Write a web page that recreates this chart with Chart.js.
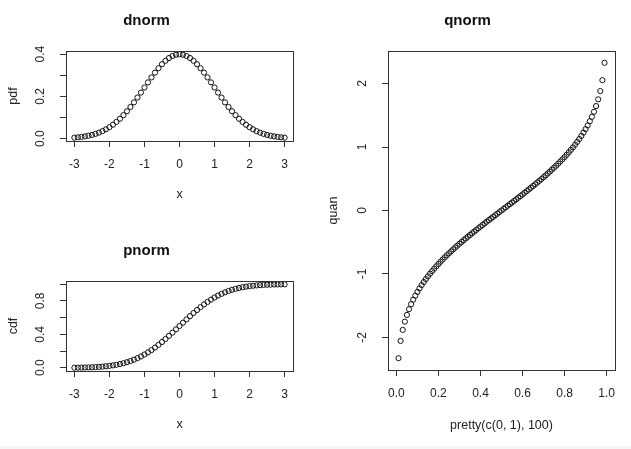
<!DOCTYPE html>
<html>
<head>
<meta charset="utf-8">
<script src="https://cdn.jsdelivr.net/npm/chart.js@4.4.1/dist/chart.umd.min.js"></script>
<style>
  html, body { margin: 0; padding: 0; background: #fff; overflow: hidden; }
  body { width: 631px; height: 449px; position: relative; }
  .panel { position: absolute; }
  #strip { position: absolute; left: 0; top: 446px; width: 631px; height: 3px; background: #f5f5f5; }
</style>
</head>
<body>
<div class="panel" style="left:0;top:0;width:320px;height:220px"><canvas id="dnormChart"></canvas></div>
<div class="panel" style="left:0;top:220px;width:320px;height:229px"><canvas id="pnormChart"></canvas></div>
<div class="panel" style="left:320px;top:0;width:311px;height:449px"><canvas id="qnormChart"></canvas></div>
<div id="strip"></div>
<script>
// x = seq(-3, 3, by = 0.1)
const xVals = [-3.0,-2.9,-2.8,-2.7,-2.6,-2.5,-2.4,-2.3,-2.2,-2.1,-2.0,-1.9,-1.8,-1.7,-1.6,-1.5,-1.4,-1.3,-1.2,-1.1,
  -1.0,-0.9,-0.8,-0.7,-0.6,-0.5,-0.4,-0.3,-0.2,-0.1,0.0,0.1,0.2,0.3,0.4,0.5,0.6,0.7,0.8,0.9,
  1.0,1.1,1.2,1.3,1.4,1.5,1.6,1.7,1.8,1.9,2.0,2.1,2.2,2.3,2.4,2.5,2.6,2.7,2.8,2.9,3.0];

const pdfVals = [0.0044,0.0060,0.0079,0.0104,0.0136,0.0175,0.0224,0.0283,0.0355,0.0440,0.0540,0.0656,0.0790,0.0940,0.1109,
  0.1295,0.1497,0.1714,0.1942,0.2179,0.2420,0.2661,0.2897,0.3123,0.3332,0.3521,0.3683,0.3814,0.3910,0.3970,0.3989,
  0.3970,0.3910,0.3814,0.3683,0.3521,0.3332,0.3123,0.2897,0.2661,0.2420,0.2179,0.1942,0.1714,0.1497,0.1295,
  0.1109,0.0940,0.0790,0.0656,0.0540,0.0440,0.0355,0.0283,0.0224,0.0175,0.0136,0.0104,0.0079,0.0060,0.0044];

const cdfVals = [0.0013,0.0019,0.0026,0.0035,0.0047,0.0062,0.0082,0.0107,0.0139,0.0179,0.0228,0.0287,0.0359,0.0446,0.0548,
  0.0668,0.0808,0.0968,0.1151,0.1357,0.1587,0.1841,0.2119,0.2420,0.2743,0.3085,0.3446,0.3821,0.4207,0.4602,0.5000,
  0.5398,0.5793,0.6179,0.6554,0.6915,0.7257,0.7580,0.7881,0.8159,0.8413,0.8643,0.8849,0.9032,0.9192,0.9332,
  0.9452,0.9554,0.9641,0.9713,0.9772,0.9821,0.9861,0.9893,0.9918,0.9938,0.9953,0.9965,0.9974,0.9981,0.9987];

// pretty(c(0, 1), 100) -- the two infinite ends are not drawn
const probVals = [0.01,0.02,0.03,0.04,0.05,0.06,0.07,0.08,0.09,0.10,0.11,0.12,0.13,0.14,0.15,0.16,0.17,0.18,0.19,0.20,
  0.21,0.22,0.23,0.24,0.25,0.26,0.27,0.28,0.29,0.30,0.31,0.32,0.33,0.34,0.35,0.36,0.37,0.38,0.39,0.40,
  0.41,0.42,0.43,0.44,0.45,0.46,0.47,0.48,0.49,0.50,0.51,0.52,0.53,0.54,0.55,0.56,0.57,0.58,0.59,0.60,
  0.61,0.62,0.63,0.64,0.65,0.66,0.67,0.68,0.69,0.70,0.71,0.72,0.73,0.74,0.75,0.76,0.77,0.78,0.79,0.80,
  0.81,0.82,0.83,0.84,0.85,0.86,0.87,0.88,0.89,0.90,0.91,0.92,0.93,0.94,0.95,0.96,0.97,0.98,0.99];

const quanVals = [-2.3263,-2.0537,-1.8808,-1.7507,-1.6449,-1.5548,-1.4758,-1.4051,-1.3408,-1.2816,
  -1.2265,-1.1750,-1.1264,-1.0803,-1.0364,-0.9945,-0.9542,-0.9154,-0.8779,-0.8416,
  -0.8064,-0.7722,-0.7388,-0.7063,-0.6745,-0.6433,-0.6128,-0.5828,-0.5534,-0.5244,
  -0.4959,-0.4677,-0.4399,-0.4125,-0.3853,-0.3585,-0.3319,-0.3055,-0.2793,-0.2533,
  -0.2275,-0.2019,-0.1764,-0.1510,-0.1257,-0.1004,-0.0753,-0.0502,-0.0251,0.0000,
  0.0251,0.0502,0.0753,0.1004,0.1257,0.1510,0.1764,0.2019,0.2275,0.2533,
  0.2793,0.3055,0.3319,0.3585,0.3853,0.4125,0.4399,0.4677,0.4959,0.5244,
  0.5534,0.5828,0.6128,0.6433,0.6745,0.7063,0.7388,0.7722,0.8064,0.8416,
  0.8779,0.9154,0.9542,0.9945,1.0364,1.0803,1.1264,1.1750,1.2265,1.2816,
  1.3408,1.4051,1.4758,1.5548,1.6449,1.7507,1.8808,2.0537,2.3263];

// tick labels
const xTicksNorm = [-3, -2, -1, 0, 1, 2, 3];
const xTickLabelsNorm = ['-3', '-2', '-1', '0', '1', '2', '3'];
const xTicksProb = [0, 0.2, 0.4, 0.6, 0.8, 1.0];
const xTickLabelsProb = ['0.0', '0.2', '0.4', '0.6', '0.8', '1.0'];
const pdfTicks = [0, 0.1, 0.2, 0.3, 0.4];
const pdfTickLabels = ['0.0', '', '0.2', '', '0.4'];
const cdfTicks = [0, 0.2, 0.4, 0.6, 0.8, 1.0];
const cdfTickLabels = ['0.0', '', '0.4', '', '0.8', ''];
const quanTicks = [-2, -1, 0, 1, 2];
const quanTickLabels = ['-2', '-1', '0', '1', '2'];

const FONT = '"Liberation Sans", Arial, Helvetica, sans-serif';
const INK = '#222';

// R pads the data range by 4% on each side
function rLim(vals) {
  const lo = Math.min(...vals), hi = Math.max(...vals);
  const d = (hi - lo) * 0.04;
  return [lo - d, hi + d];
}

// rotated y tick labels and the box, like base R graphics
const rFrame = {
  id: 'rFrame',
  afterDraw(chart, args, opts) {
    const { ctx, chartArea: a } = chart;
    const ys = chart.scales.y;
    ctx.save();
    ctx.strokeStyle = '#333';
    ctx.lineWidth = 1;
    ctx.strokeRect(Math.round(a.left) + 0.5, Math.round(a.top) + 0.5,
      Math.round(a.right - a.left), Math.round(a.bottom - a.top));
    ctx.fillStyle = INK;
    ctx.font = '12px ' + FONT;
    ctx.textAlign = 'center';
    ctx.textBaseline = 'middle';
    opts.ticks.forEach((v, i) => {
      const txt = opts.labels[i];
      if (!txt) return;
      ctx.save();
      ctx.translate(a.left - 25, ys.getPixelForValue(v));
      ctx.rotate(-Math.PI / 2);
      ctx.fillText(txt, 0, 0);
      ctx.restore();
    });
    ctx.restore();
  }
};

function makePanel(id, p) {
  const xl = p.xlim, yl = p.ylim;
  return new Chart(document.getElementById(id), {
    type: 'scatter',
    data: {
      datasets: [{
        data: p.xs.map((x, i) => ({ x: x, y: p.ys[i] })),
        pointStyle: 'circle',
        pointRadius: 2.6,
        pointBorderWidth: 1,
        borderColor: '#111',
        backgroundColor: 'rgba(0,0,0,0)',
        showLine: false
      }]
    },
    options: {
      responsive: true,
      maintainAspectRatio: false,
      animation: false,
      events: [],
      layout: { padding: { left: 0, right: p.padRight, top: 0, bottom: 0 } },
      plugins: {
        legend: { display: false },
        tooltip: { enabled: false },
        title: {
          display: true,
          text: p.title,
          color: '#111',
          font: { family: FONT, size: 15, weight: 'bold', lineHeight: 1.2 },
          padding: { top: p.titleTop, bottom: p.titleBottom }
        },
        rFrame: { ticks: p.yTicks, labels: p.yLabels }
      },
      scales: {
        x: {
          type: 'linear',
          min: xl[0] - (xl[1] - xl[0]) * 0.04,
          max: xl[1] + (xl[1] - xl[0]) * 0.04,
          afterBuildTicks: s => { s.ticks = p.xTicks.map(v => ({ value: v })); },
          afterFit: s => { s.height = p.xHeight; },
          ticks: {
            color: INK,
            font: { family: FONT, size: 12 },
            padding: 10,
            maxRotation: 0,
            autoSkip: false,
            callback: (v) => p.xLabels[p.xTicks.indexOf(v)]
          },
          grid: { drawOnChartArea: false, drawTicks: true, tickLength: 6, color: '#333' },
          border: { display: false },
          title: {
            display: true, text: p.xTitle, color: INK,
            font: { family: FONT, size: 12.5, lineHeight: 1.2 },
            padding: { top: 0, bottom: p.xTitlePad }
          }
        },
        y: {
          type: 'linear',
          min: yl[0], max: yl[1],
          afterBuildTicks: s => { s.ticks = p.yTicks.map(v => ({ value: v })); },
          afterFit: s => { s.width = p.yWidth; },
          ticks: { display: false },
          grid: { drawOnChartArea: false, drawTicks: true, tickLength: 6, color: '#333' },
          border: { display: false },
          title: {
            display: true, text: p.yTitle, color: INK,
            font: { family: FONT, size: 12.5, lineHeight: 1.2 },
            padding: { top: 6, bottom: 0 }
          }
        }
      }
    },
    plugins: [rFrame]
  });
}

makePanel('dnormChart', {
  title: 'dnorm', xTitle: 'x', yTitle: 'pdf',
  xs: xVals, ys: pdfVals,
  xlim: [-3, 3], ylim: rLim(pdfVals),
  xTicks: xTicksNorm, xLabels: xTickLabelsNorm,
  yTicks: pdfTicks, yLabels: pdfTickLabels,
  padRight: 27, titleTop: 12, titleBottom: 21,
  xHeight: 79, xTitlePad: 17.5, yWidth: 66
});

makePanel('pnormChart', {
  title: 'pnorm', xTitle: 'x', yTitle: 'cdf',
  xs: xVals, ys: cdfVals,
  xlim: [-3, 3], ylim: rLim(cdfVals),
  xTicks: xTicksNorm, xLabels: xTickLabelsNorm,
  yTicks: cdfTicks, yLabels: cdfTickLabels,
  padRight: 27, titleTop: 21.7, titleBottom: 21.3,
  xHeight: 78, xTitlePad: 16.5, yWidth: 66
});

makePanel('qnormChart', {
  title: 'qnorm', xTitle: 'pretty(c(0, 1), 100)', yTitle: 'quan',
  xs: probVals, ys: quanVals,
  xlim: [0, 1], ylim: rLim(quanVals),
  xTicks: xTicksProb, xLabels: xTickLabelsProb,
  yTicks: quanTicks, yLabels: quanTickLabels,
  padRight: 16, titleTop: 12, titleBottom: 21,
  xHeight: 79, xTitlePad: 15.8, yWidth: 68
});
</script>
</body>
</html>
